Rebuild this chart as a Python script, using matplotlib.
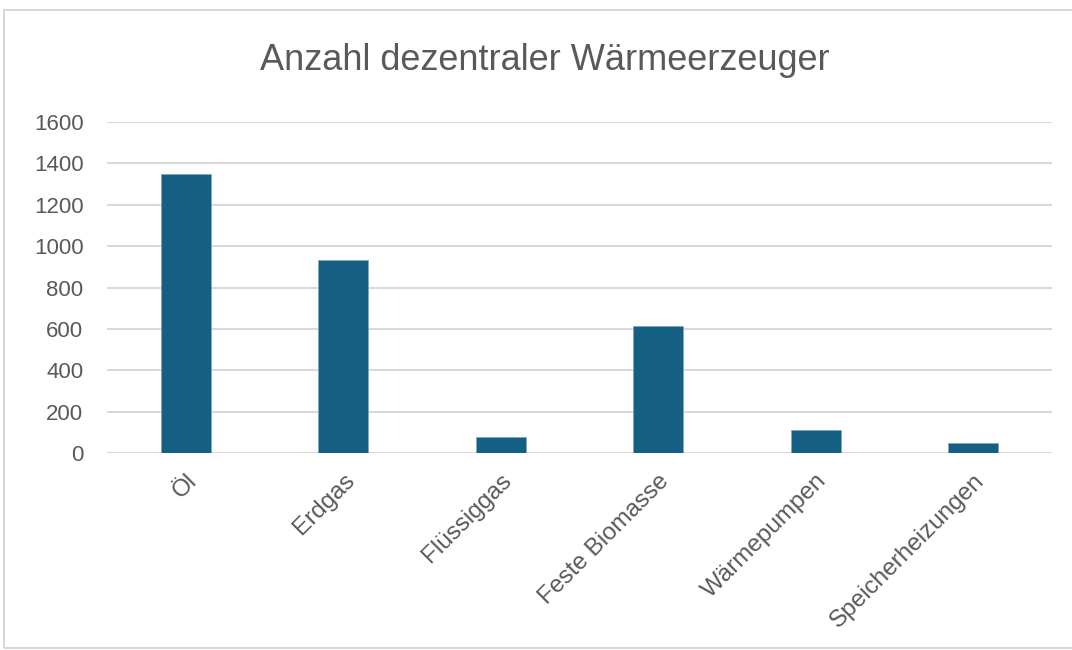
import matplotlib.pyplot as plt
from matplotlib.patches import Rectangle

categories = ["Öl", "Erdgas", "Flüssiggas", "Feste Biomasse", "Wärmepumpen", "Speicherheizungen"]
counts = [1350, 935, 76, 615, 110, 47]
yticks = [0, 200, 400, 600, 800, 1000, 1200, 1400, 1600]

plt.rcParams["font.family"] = ["Liberation Sans Narrow", "Liberation Sans", "DejaVu Sans"]

fig = plt.figure(figsize=(10.72, 6.5), dpi=100)
ax = fig.add_axes([107 / 1072, 1 - 453 / 650, (1052 - 107) / 1072, (453 - 122) / 650])

# light frame around the chart area
fig.patches.append(Rectangle((4 / 1072, 2 / 650), 1.1, 1 - 12 / 650, transform=fig.transFigure,
                             fill=False, edgecolor="#d0d0d0", linewidth=1.2))

x = range(len(categories))
ax.bar(x, counts, width=0.32, color="#156082", edgecolor="#7fa9bd", linewidth=0.5, zorder=3)

ax.set_xlim(-0.5, len(categories) - 0.5)
ax.set_ylim(0, 1600)
ax.set_yticks(yticks)
ax.set_yticklabels([str(v) for v in yticks], fontsize=16, color="#595959")
ax.set_xticks(list(x))
ax.set_xticklabels(categories, rotation=45, ha="right", rotation_mode="anchor",
                   fontsize=17.5, color="#595959")
ax.tick_params(length=0, pad=12)
ax.tick_params(axis="y", pad=17)

ax.grid(axis="y", color="#d9d9d9", linewidth=1.5, zorder=0)
for s in ax.spines.values():
    s.set_visible(False)

fig.text(545 / 1072, 1 - 60 / 650, "Anzahl dezentraler Wärmeerzeuger", ha="center", va="center",
         fontsize=26, color="#595959")

fig.savefig("out.png", dpi=100)
